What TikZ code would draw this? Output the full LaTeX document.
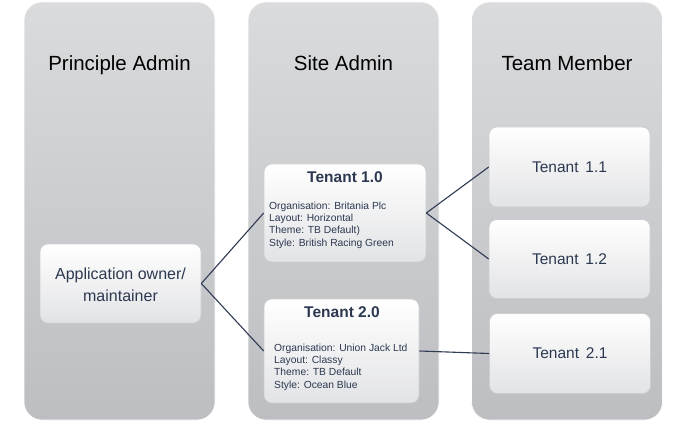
\documentclass[tikz,border=0pt]{standalone}
\usepackage{fontspec}
\setmainfont{Liberation Sans}
\definecolor{coltop}{RGB}{218,219,221}
\definecolor{colbot}{RGB}{189,190,193}
\definecolor{boxbot}{RGB}{226,227,229}
\definecolor{boxline}{RGB}{205,206,209}
\definecolor{txt}{RGB}{44,56,80}
\definecolor{wire}{RGB}{46,58,82}
\tikzset{
  column/.style={rounded corners=18pt, minimum width=191pt, inner sep=0pt,
    top color=coltop, bottom color=colbot, draw=white, line width=0.6pt},
  head/.style={anchor=base, font=\fontsize{20.5}{24}\selectfont, text=black, inner sep=0pt},
  card/.style={rounded corners=8pt, inner sep=0pt, top color=white, middle color=white,
    bottom color=boxbot, draw=boxline, line width=0.6pt},
  cardtext/.style={font=\fontsize{16}{22}\selectfont, text=txt, align=center, inner sep=0pt},
  title/.style={anchor=base, font=\bfseries\fontsize{15.5}{18}\selectfont, text=txt, inner sep=0pt},
  detail/.style={anchor=base west, align=left, font=\fontsize{10.3}{12.4}\selectfont, text=txt, inner sep=0pt},
  wirestyle/.style={draw=wire, line width=1.1pt}
}
\begin{document}
\begin{tikzpicture}[x=1pt,y=-1pt]
\useasboundingbox (0,0) rectangle (690,422);
% columns
\node[column, minimum height=418pt] (c1) at (119.5,211) {};
\node[column, minimum height=418pt] (c2) at (343.5,211) {};
\node[column, minimum height=418pt] (c3) at (567,211) {};
\node[head] (h1) at (119.5,71) {Principle Admin};
\node[head] (h2) at (343.5,71) {Site Admin};
\node[head] (h3) at (567,71) {Team Member};
% cards
\node[card, minimum width=161pt, minimum height=79pt] (app) at (120.5,283.5) {};
\node[cardtext] (appt) at (120.5,285) {Application owner/\\maintainer};
\node[card, minimum width=162pt, minimum height=98pt] (t10) at (345,213) {};
\node[title] (t10h) at (345,182.5) {Tenant 1.0};
\node[detail] (t10d) at (269,246.2) {Organisation: Britania Plc\\Layout: Horizontal\\Theme: TB Default)\\Style: British Racing Green};
\node[card, minimum width=155pt, minimum height=104pt] (t20) at (341.5,351) {};
\node[title] (t20h) at (342,317.5) {Tenant 2.0};
\node[detail] (t20d) at (274,388.2) {Organisation: Union Jack Ltd\\Layout: Classy\\Theme: TB Default\\Style: Ocean Blue};
\node[card, minimum width=161pt, minimum height=80pt] (t11) at (569.5,167) {};
\node[cardtext, font=\fontsize{15.5}{18}\selectfont] (t11t) at (569.5,167) {Tenant\, 1.1};
\node[card, minimum width=161pt, minimum height=79pt] (t12) at (569.5,259) {};
\node[cardtext, font=\fontsize{15.5}{18}\selectfont] (t12t) at (569.5,259) {Tenant\, 1.2};
\node[card, minimum width=161pt, minimum height=80pt] (t21) at (570,353.5) {};
\node[cardtext, font=\fontsize{15.5}{18}\selectfont] (t21t) at (570,353.5) {Tenant\, 2.1};
% connectors
\draw[wirestyle] (app.east) -- (t10.west);
\draw[wirestyle] (app.east) -- (t20.west);
\draw[wirestyle] (t10.east) -- (t11.west);
\draw[wirestyle] (t10.east) -- (t12.west);
\draw[wirestyle] (t20.east) -- (t21.west);
\end{tikzpicture}
\end{document}
